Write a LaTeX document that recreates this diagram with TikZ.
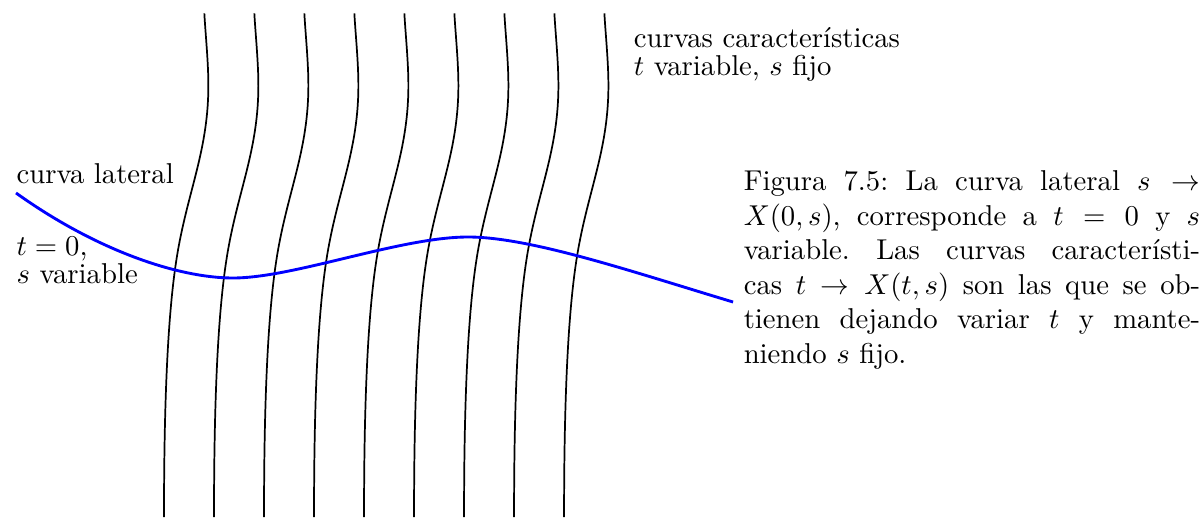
\documentclass[tikz,border=0pt]{standalone}
\usepackage{amsmath}
\usepackage{tikz}
\usetikzlibrary{positioning}
\tikzset{
  charc/.style={line width=0.6pt,black},
  lateral/.style={line width=1pt,blue},
  lbl/.style={anchor=base west,inner sep=0pt,align=left,font=\normalsize},
  capt/.style={anchor=base west,inner sep=0pt,text width=159pt,align=justify,
               font=\normalsize\frenchspacing}
}

\begin{document}
\begin{tikzpicture}
  \useasboundingbox (0,0) rectangle (14.73,6.331);

  % curvas caracteristicas
  \foreach \i in {0,...,8}{
    \draw[charc,shift={(2.008+0.6123*\i,0)}] (0,0)
      .. controls (0,1.4) and (0.045,2.5) .. (0.16,3.2)
      .. controls (0.291,4.0) and (0.55,4.5) .. (0.543,5.315)
      .. controls (0.541,5.6) and (0.505,5.95) .. (0.494,6.168);
  }

  % curva lateral
  \draw[lateral] (0.196,3.968)
    .. controls (1.2,3.25) and (2.2,2.927) .. (2.853,2.927)
    .. controls (3.6,2.927) and (4.9,3.429) .. (5.731,3.429)
    .. controls (6.5,3.429) and (7.776,2.993) .. (8.976,2.633);

  \node[lbl] (lat) at (0.196,4.08) {curva lateral};
  \node[lbl] (tcero) at (0.196,2.86) {$t=0$,\\[-2.2pt]$s$ variable};
  \node[lbl] (carac) at (7.754,5.405) {curvas caracter\'isticas\\[-2.2pt]$t$ variable, $s$ fijo};

  \node[capt] (fig) at (9.10,3.994) {\baselineskip=11.6pt
    Figura 7.5: La curva lateral $s \to$\linebreak
    $X(0,s)$, corresponde a $t=0$ y $s$\linebreak
    variable. Las curvas caracter\'isti-\linebreak
    cas $t\to X(t,s)$ son las que se ob-\linebreak
    tienen dejando variar $t$ y mante-\linebreak
    niendo $s$ fijo.};
\end{tikzpicture}
\end{document}
